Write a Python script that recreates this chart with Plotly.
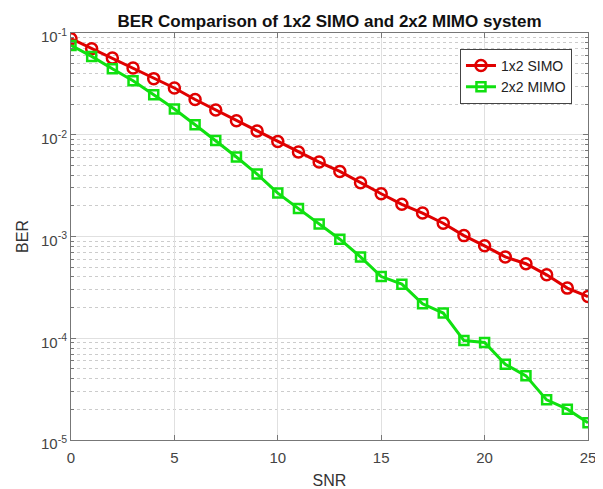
import plotly.graph_objects as go

snr = list(range(0, 26))
ber_simo = [0.0879, 0.0701, 0.0568, 0.0453, 0.0356, 0.0288, 0.0222, 0.0175, 0.0137, 0.0109,
            0.00859, 0.00676, 0.00539, 0.00436, 0.00337, 0.00263, 0.00207, 0.00170, 0.00135, 0.00102,
            0.00081, 0.00063, 0.00054, 0.00042, 0.000311, 0.000257]
ber_mimo = [0.0755, 0.0589, 0.0446, 0.0340, 0.0247, 0.0179, 0.01254, 0.00879, 0.00604, 0.00411,
            0.00267, 0.00188, 0.00133, 0.00094, 0.00063, 0.000404, 0.000340, 0.000218, 0.000177, 0.0000949,
            0.0000907, 0.0000556, 0.0000427, 0.0000248, 0.0000201, 0.0000148]
x_ticks = [0, 5, 10, 15, 20, 25]
y_ticks = [1e-5, 1e-4, 1e-3, 1e-2, 1e-1]
y_ticktext = ["10<sup>-5</sup>", "10<sup>-4</sup>", "10<sup>-3</sup>", "10<sup>-2</sup>", "10<sup>-1</sup>"]
y_minor = [m * d for d in [1e-5, 1e-4, 1e-3, 1e-2] for m in range(2, 10)]

FONT = "Liberation Sans, Arial, sans-serif"

fig = go.Figure()
fig.add_trace(go.Scatter(
    x=snr, y=ber_simo, name="1x2 SIMO", mode="lines+markers",
    line=dict(color="#e00000", width=3),
    marker=dict(symbol="circle-open", size=11, color="#e00000", line=dict(width=2.5)),
))
fig.add_trace(go.Scatter(
    x=snr, y=ber_mimo, name="2x2 MIMO", mode="lines+markers",
    line=dict(color="#10e010", width=3),
    marker=dict(symbol="square-open", size=9, color="#10e010", line=dict(width=2.5)),
))

fig.update_layout(
    width=595, height=481,
    margin=dict(l=63, r=15, t=25, b=49),
    paper_bgcolor="white", plot_bgcolor="white",
    font=dict(family=FONT, color="#333333", size=14),
    title=dict(text="<b>BER Comparison of 1x2 SIMO and 2x2 MIMO system</b>",
               x=0.5, xref="paper", xanchor="center", yref="container", y=0.972, yanchor="middle",
               font=dict(size=17, color="#111111")),
    legend=dict(x=0.969, y=0.961, xanchor="right", yanchor="top",
                bgcolor="white", bordercolor="#444444", borderwidth=1,
                font=dict(size=14, color="#222222")),
    showlegend=True,
)
fig.update_xaxes(
    range=[0, 25], tickvals=x_ticks, automargin=False,
    showgrid=True, gridcolor="#e0e0e0", gridwidth=1,
    showline=True, linecolor="#777777", linewidth=1, mirror="ticks",
    ticks="inside", ticklen=5, tickcolor="#777777", ticklabelstandoff=4,
    zeroline=False, tickfont=dict(size=15, color="#444444"),
    title=dict(text="SNR", font=dict(size=16, color="#333333"), standoff=16),
)
fig.update_yaxes(
    type="log", range=[-5, -1], automargin=False,
    tickvals=y_ticks, ticktext=y_ticktext, ticklabelshift=4,
    showgrid=True, gridcolor="#e0e0e0", gridwidth=1,
    showline=True, linecolor="#777777", linewidth=1, mirror="ticks",
    ticks="inside", ticklen=5, tickcolor="#777777",
    minor=dict(tickmode="array", tickvals=y_minor, showgrid=True, gridcolor="#cccccc",
               griddash="dot", gridwidth=1, ticks="inside", ticklen=3, tickcolor="#777777"),
    zeroline=False, tickfont=dict(size=15, color="#444444"),
    title=dict(text="BER", font=dict(size=16, color="#333333"), standoff=8),
)

fig.write_html("out.html")
